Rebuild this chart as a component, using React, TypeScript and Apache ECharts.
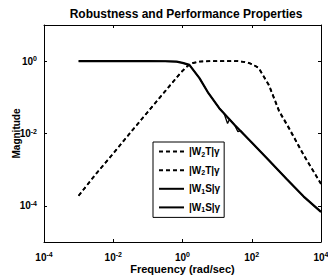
import React, { useEffect, useRef } from "react";
import * as echarts from "echarts";

const titleText = "Robustness and Performance Properties";
const xAxisName = "Frequency (rad/sec)";
const yAxisName = "Magnitude";

const xTickValues = [1e-4, 1e-2, 1, 1e2, 1e4];
const yTickValues = [1e-4, 1e-2, 1];
const labelExponents = [-4, -2, 0, 2, 4];

const seriesIds = ["W2Ta", "W2Tb", "W1Sa", "W1Sb"];
const legendLabels: Record<string, string> = {
  W2Ta: "{n||W}{s|2}{n|T|γ}",
  W2Tb: "{n||W}{s|2}{n|T|γ}",
  W1Sa: "{n||W}{s|1}{n|S|γ}",
  W1Sb: "{n||W}{s|1}{n|S|γ}",
};

// |W2T| curves
const freqW2Ta = [1e-3, 3.16e-3, 1e-2, 3.16e-2, 0.1, 0.316, 0.724, 1, 1.41, 2, 3.16, 6.31, 15.8, 39.8, 70.8, 100, 158, 316, 617, 1202, 3162, 1e4];
const magW2Ta = [1.9e-4, 7.6e-4, 2.8e-3, 1.07e-2, 3.98e-2, 0.148, 0.38, 0.54, 0.74, 0.89, 0.977, 1.0, 1.0, 1.0, 0.933, 0.832, 0.645, 0.209, 0.0407, 0.0135, 2.5e-3, 4.0e-4];
const freqW2Tb = [1e-3, 3.16e-3, 1e-2, 3.16e-2, 0.1, 0.316, 0.724, 1, 1.41, 2, 3.16, 6.31, 15.8, 39.8, 70.8, 100, 158, 316, 617, 1202, 3162, 1e4];
const magW2Tb = [1.9e-4, 7.6e-4, 2.8e-3, 1.07e-2, 3.98e-2, 0.148, 0.38, 0.54, 0.74, 0.89, 0.977, 1.0, 1.0, 1.0, 0.94, 0.84, 0.66, 0.22, 0.043, 0.0142, 2.6e-3, 4.1e-4];

// |W1S| curves
const freqW1Sa = [1e-3, 1e-2, 0.1, 0.316, 0.676, 1, 1.58, 3.09, 5.62, 11.5, 31.6, 100, 316, 1000, 3162, 1e4];
const magW1Sa = [1.0, 1.0, 1.0, 0.995, 0.97, 0.9, 0.79, 0.34, 0.13, 0.05, 0.0174, 5.6e-3, 1.8e-3, 5.6e-4, 1.8e-4, 6.8e-5];
const freqW1Sb = [1e-3, 1e-2, 0.1, 0.316, 0.676, 1, 1.58, 3.09, 5.62, 11.5, 15.8, 20, 22.9, 31.6, 39.8, 47.9, 100, 316, 1000, 3162, 1e4];
const magW1Sb = [1.0, 1.0, 1.0, 0.995, 0.97, 0.9, 0.79, 0.34, 0.13, 0.05, 0.036, 0.019, 0.025, 0.0174, 0.0112, 0.012, 5.6e-3, 1.8e-3, 5.6e-4, 1.8e-4, 6.8e-5];

const FONT = "Liberation Sans";

function pairs(xs: number[], ys: number[]) {
  return xs.map((x, i) => [x, ys[i]]);
}

function powLabel(v: number) {
  const e = Math.round(Math.log10(v));
  if (labelExponents.indexOf(e) < 0) return "";
  return `{b|10}{s|${e}}`;
}

const richPow = {
  b: { fontFamily: FONT, fontWeight: "bold" as const, fontSize: 10, color: "#000" },
  s: { fontFamily: FONT, fontWeight: "bold" as const, fontSize: 7, color: "#000", padding: [0, 0, 5, 0] },
};

export default function App() {
  const ref = useRef<HTMLDivElement>(null);
  useEffect(() => {
    if (!ref.current) return;
    const chart = echarts.init(ref.current, null, { renderer: "svg" });
    const axisLine = { show: true, lineStyle: { color: "#000", width: 1 } };
    const tickX = { show: true, inside: true, length: 3, lineStyle: { color: "#000" }, customValues: xTickValues };
    const tickY = { show: true, inside: true, length: 3, lineStyle: { color: "#000" }, customValues: yTickValues };
    const baseX = { type: "log" as const, logBase: 10, min: 1e-4, max: 1e4, interval: 1, splitLine: { show: false }, minorTick: { show: false }, axisLine, axisTick: tickX };
    const baseY = { type: "log" as const, logBase: 10, min: 1e-5, max: 1e1, interval: 1, splitLine: { show: false }, minorTick: { show: false }, axisLine, axisTick: tickY };
    const mk = (id: string, xs: number[], ys: number[], dashed: boolean, width: number) => ({
      type: "line" as const,
      name: id,
      data: pairs(xs, ys),
      showSymbol: false,
      symbol: "none",
      smooth: false,
      lineStyle: { color: "#000", width, type: dashed ? [4, 3] : "solid" },
      itemStyle: { color: "#000" },
      z: dashed ? 3 : 2,
    });
    chart.setOption({
      animation: false,
      backgroundColor: "#fff",
      title: {
        text: titleText,
        left: 181,
        textAlign: "center",
        top: 3,
        textStyle: { fontFamily: FONT, fontWeight: "bold", fontSize: 12, color: "#000" },
      },
      grid: { left: 44, right: 7, top: 25, bottom: 34, containLabel: false, outerBoundsMode: "none" },
      xAxis: [
        {
          ...baseX,
          position: "bottom",
          name: xAxisName,
          nameLocation: "middle",
          nameGap: 21,
          nameMoveOverlap: false,
          nameTextStyle: { fontFamily: FONT, fontWeight: "bold", fontSize: 11, color: "#000" },
          axisLabel: { show: true, formatter: powLabel, rich: richPow, margin: 9, showMinLabel: true, showMaxLabel: true, hideOverlap: false },
        },
        { ...baseX, position: "top", axisLabel: { show: false } },
      ],
      yAxis: [
        {
          ...baseY,
          position: "left",
          name: yAxisName,
          nameLocation: "middle",
          nameGap: 23,
          nameRotate: 90,
          nameMoveOverlap: false,
          nameTextStyle: { fontFamily: FONT, fontWeight: "bold", fontSize: 10, color: "#000" },
          axisLabel: { show: true, formatter: powLabel, rich: richPow, margin: 7 },
        },
        { ...baseY, position: "right", axisLabel: { show: false } },
      ],
      legend: {
        orient: "vertical",
        left: 153,
        top: 142,
        padding: [4, 4, 4, 5],
        itemWidth: 25,
        itemHeight: 14,
        itemGap: 7,
        itemTextGap: 4,
        backgroundColor: "#fff",
        borderColor: "#000",
        borderWidth: 1,
        borderRadius: 0,
        selectedMode: false,
        itemStyle: { opacity: 0 },
        data: seriesIds,
        formatter: (name: string) => legendLabels[name],
        textStyle: {
          rich: {
            n: { fontFamily: FONT, fontWeight: "bold", fontSize: 10, color: "#000" },
            s: { fontFamily: FONT, fontWeight: "bold", fontSize: 7, color: "#000", padding: [5, 0, 0, 0] },
          },
        },
      },
      series: [
        mk("W2Ta", freqW2Ta, magW2Ta, true, 1.8),
        mk("W2Tb", freqW2Tb, magW2Tb, true, 1.6),
        mk("W1Sa", freqW1Sa, magW1Sa, false, 2.2),
        mk("W1Sb", freqW1Sb, magW1Sb, false, 1.3),
      ],
    });
    return () => chart.dispose();
  }, []);
  return <div ref={ref} style={{ width: 328, height: 276, position: "fixed", left: 0, top: 0 }} />;
}
